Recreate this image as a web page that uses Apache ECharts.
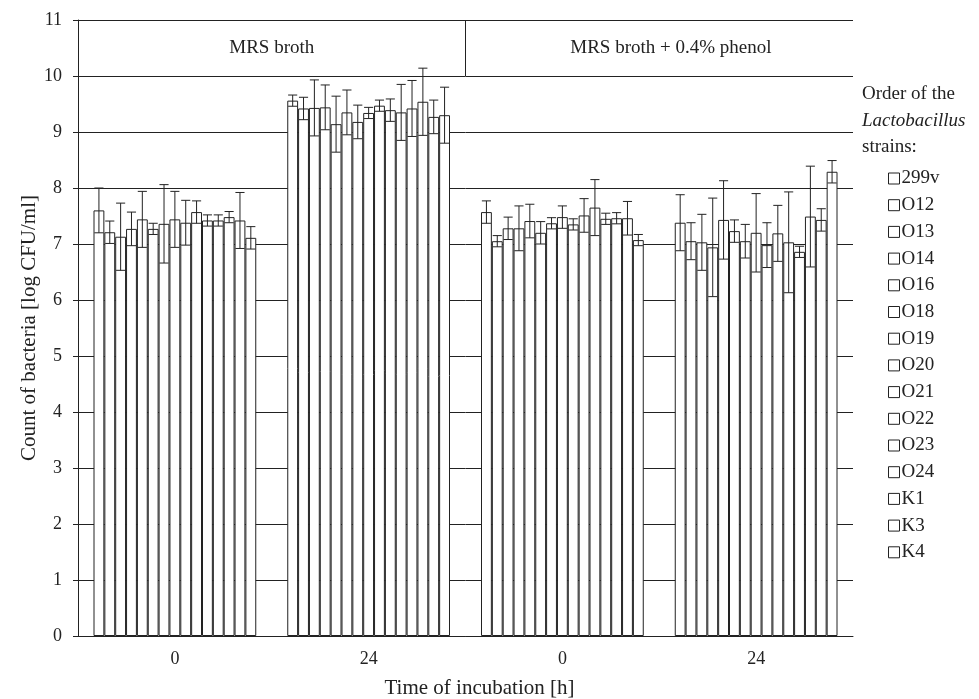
<!DOCTYPE html>
<html>
<head>
<meta charset="utf-8">
<script src="https://cdn.jsdelivr.net/npm/echarts@6/dist/echarts.min.js"></script>
<style>html,body{margin:0;padding:0;background:#fff;}#c{width:979px;height:699px;}</style>
</head>
<body>
<div id="c"></div>
<script>
const categories = ['0', '24', '0', '24'];
const strains = ['299v','O12','O13','O14','O16','O18','O19','O20','O21','O22','O23','O24','K1','K3','K4'];
const headers = ['MRS broth', 'MRS broth + 0.4% phenol'];
const yTicks = [0,1,2,3,4,5,6,7,8,9,10,11];

// means and standard deviations per strain for each column group
const meanMRS0  = [7.60,7.21,7.13,7.27,7.44,7.27,7.36,7.44,7.38,7.57,7.42,7.42,7.48,7.42,7.11];
const sdMRS0    = [0.40,0.20,0.60,0.30,0.50,0.10,0.70,0.50,0.40,0.20,0.10,0.10,0.10,0.50,0.20];
const meanMRS24 = [9.56,9.42,9.43,9.44,9.14,9.35,9.18,9.34,9.47,9.39,9.35,9.42,9.54,9.27,9.30];
const sdMRS24   = [0.10,0.20,0.50,0.40,0.50,0.40,0.30,0.10,0.10,0.20,0.50,0.50,0.60,0.30,0.50];
const meanPh0   = [7.57,7.05,7.28,7.28,7.41,7.20,7.37,7.48,7.35,7.51,7.65,7.45,7.46,7.46,7.07];
const sdPh0     = [0.20,0.10,0.20,0.40,0.30,0.20,0.10,0.20,0.10,0.30,0.50,0.10,0.10,0.30,0.10];
const meanPh24  = [7.38,7.05,7.03,6.94,7.43,7.23,7.05,7.20,6.98,7.19,7.03,6.86,7.49,7.43,8.29];
const sdPh24    = [0.50,0.33,0.50,0.88,0.70,0.20,0.30,0.70,0.40,0.50,0.90,0.10,0.90,0.20,0.20];

const meansByGroup = [meanMRS0, meanMRS24, meanPh0, meanPh24];
const sdsByGroup = [sdMRS0, sdMRS24, sdPh0, sdPh24];

const FONT = "'Liberation Serif', 'Times New Roman', serif";
const INK = '#222';
const NS = strains.length;
const CAT_GAP = 0.16;

const barSeries = strains.map((s, j) => ({
  name: s,
  type: 'bar',
  barGap: '0%',
  barCategoryGap: (CAT_GAP * 100) + '%',
  data: meansByGroup.map(g => g[j]),
  itemStyle: { color: '#fff', borderColor: INK, borderWidth: 1 },
  emphasis: { disabled: true },
  animation: false,
  z: 2
}));

const errData = [];
meansByGroup.forEach((g, i) => g.forEach((m, j) => errData.push([i, j, m, sdsByGroup[i][j]])));

function renderErr(params, api) {
  const cat = api.value(0), j = api.value(1), m = api.value(2), sd = api.value(3);
  const c = api.coord([cat, m]);
  const band = api.size([1, 0])[0];
  const bw = band * (1 - CAT_GAP) / NS;
  const x = c[0] + (j - (NS - 1) / 2) * bw;
  const yT = api.coord([cat, m + sd])[1];
  const yB = api.coord([cat, m - sd])[1];
  const hw = bw * 0.42;
  const st = { stroke: INK, lineWidth: 1 };
  return {
    type: 'group',
    children: [
      { type: 'line', shape: { x1: x, y1: yT, x2: x, y2: yB }, style: st },
      { type: 'line', shape: { x1: x - hw, y1: yT, x2: x + hw, y2: yT }, style: st },
      { type: 'line', shape: { x1: x - hw, y1: yB, x2: x + hw, y2: yB }, style: st }
    ]
  };
}

function renderHeader(params, api) {
  const top = yTicks[yTicks.length - 1];
  const c0 = api.coord([0, top]), c1 = api.coord([1, top]), c2 = api.coord([2, top]), c3 = api.coord([3, top]);
  const y1 = api.coord([0, top - 1])[1];
  const half = api.size([1, 0])[0] / 2;
  const bx = (c1[0] + c2[0]) / 2;
  const ym = (c0[1] + y1) / 2;
  const right = c3[0] + half;
  const ts = { fontFamily: FONT, fontSize: 19, fill: INK, align: 'center', verticalAlign: 'middle' };
  return {
    type: 'group',
    children: [
      { type: 'line', shape: { x1: bx, y1: c0[1], x2: bx, y2: y1 }, style: { stroke: INK, lineWidth: 1 } },
      { type: 'text', x: (c0[0] + c1[0]) / 2, y: ym, style: Object.assign({ text: headers[0] }, ts) },
      { type: 'text', x: bx + (right - bx) * 0.53, y: ym, style: Object.assign({ text: headers[1] }, ts) }
    ]
  };
}

const chart = echarts.init(document.getElementById('c'), null, { renderer: 'canvas' });
chart.setOption({
  animation: false,
  backgroundColor: '#fff',
  grid: { left: 78, right: 126, top: 20, bottom: 63, containLabel: false, outerBoundsMode: 'none' },
  xAxis: {
    type: 'category',
    data: categories,
    axisTick: { show: false },
    axisLine: { lineStyle: { color: INK, width: 1 } },
    axisLabel: { fontFamily: FONT, fontSize: 18, color: INK, margin: 14 },
    name: 'Time of incubation [h]',
    nameLocation: 'middle',
    nameGap: 42,
    nameMoveOverlap: false,
    nameTextStyle: { fontFamily: FONT, fontSize: 21, color: INK, padding: [0, 0, 0, 28] }
  },
  yAxis: {
    type: 'value',
    min: yTicks[0],
    max: yTicks[yTicks.length - 1],
    interval: 1,
    axisLine: { show: true, lineStyle: { color: INK, width: 1 } },
    axisTick: { show: true, length: 5, lineStyle: { color: INK } },
    axisLabel: { fontFamily: FONT, fontSize: 18, color: INK, margin: 16 },
    splitLine: { show: true, lineStyle: { color: INK, width: 1 } },
    name: 'Count of bacteria [log CFU/ml]',
    nameLocation: 'middle',
    nameGap: 38,
    nameMoveOverlap: false,
    nameTextStyle: { fontFamily: FONT, fontSize: 21, color: INK }
  },
  legend: {
    data: strains,
    orient: 'vertical',
    left: 888,
    top: 169,
    padding: 0,
    icon: 'rect',
    itemWidth: 11,
    itemHeight: 11,
    itemGap: 7.7,
    selectedMode: false,
    itemStyle: { color: '#fff', borderColor: INK, borderWidth: 1 },
    textStyle: { fontFamily: FONT, fontSize: 19, color: INK, lineHeight: 19, padding: [0, 0, 0, -3] }
  },
  graphic: [{
    type: 'text',
    left: 862,
    top: 85,
    style: {
      text: '{a|Order of the}\n{b|Lactobacillus}\n{a|strains:}',
      rich: {
        a: { fontFamily: FONT, fontSize: 19, lineHeight: 26.5, fill: INK },
        b: { fontFamily: FONT, fontSize: 19, lineHeight: 26.5, fontStyle: 'italic', fill: INK }
      }
    }
  }],
  series: barSeries.concat([
    {
      name: 'err',
      type: 'custom',
      renderItem: renderErr,
      data: errData,
      encode: { x: 0, y: 2 },
      z: 5,
      silent: true
    },
    {
      name: 'header',
      type: 'custom',
      renderItem: renderHeader,
      data: [[0, yTicks[yTicks.length - 1]]],
      encode: { x: 0, y: 1 },
      z: 6,
      silent: true
    }
  ])
});
</script>
</body>
</html>
